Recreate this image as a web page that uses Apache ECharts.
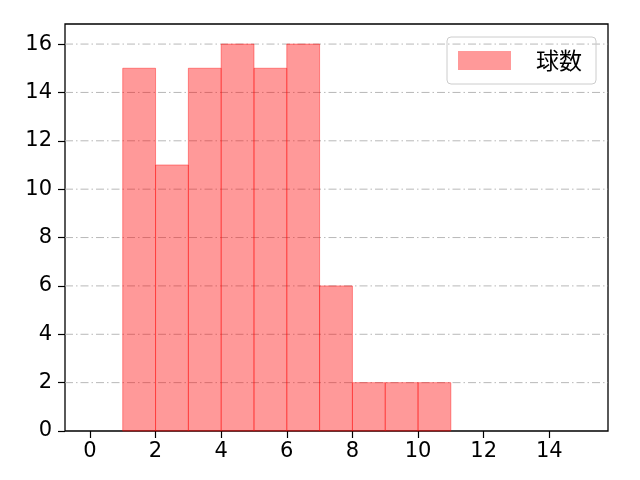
<!DOCTYPE html>
<html><head><meta charset="utf-8">
<script src="https://cdn.jsdelivr.net/npm/echarts@6/dist/echarts.min.js"></script>
<style>html,body{margin:0;padding:0;background:#fff}#c{width:640px;height:480px}</style>
</head><body><div id="c"></div>
<script>
const binStarts = [1,2,3,4,5,6,7,8,9,10];
const binEnds = [2,3,4,5,6,7,8,9,10,11];
const counts = [15,11,15,16,15,16,6,2,2,2];
const xTicks = [0,2,4,6,8,10,12,14];
const yTicks = [0,2,4,6,8,10,12,14,16];
const seriesName = '球数';

const data = binStarts.map((s,i)=>[s, binEnds[i], counts[i]]);
const chart = echarts.init(document.getElementById('c'));
const font = 'DejaVu Sans';
chart.setOption({
  animation:false,
  grid:{left:65,right:32,top:24,bottom:49,show:true,borderColor:'#000',borderWidth:1.3,backgroundColor:'transparent'},
  legend:{data:[{name:seriesName,icon:'rect'}],right:44,top:37,orient:'vertical',itemWidth:53,itemHeight:19,
    borderColor:'#cccccc',borderWidth:1,borderRadius:4,padding:[12,14,12,11],
    textStyle:{fontFamily:'Noto Sans CJK JP',fontSize:23,color:'#000',padding:[0,0,0,20]}},
  xAxis:{type:'value',min:-0.76,max:15.79,
    axisLine:{show:false,onZero:false},
    axisTick:{show:true,customValues:xTicks,length:7,lineStyle:{color:'#000',width:1.2}},
    axisLabel:{customValues:xTicks,fontFamily:font,fontSize:21,color:'#000',margin:10},
    splitLine:{show:false}},
  yAxis:{type:'value',min:0,max:16.83,
    axisLine:{show:false,onZero:false},
    axisTick:{show:true,customValues:yTicks,length:7,lineStyle:{color:'#000',width:1.2}},
    axisLabel:{customValues:yTicks,fontFamily:font,fontSize:21,color:'#000',margin:13},
    splitLine:{show:false}},
  series:[
  {type:'custom',name:'grid',silent:true,legendHoverLink:false,
    data:yTicks.filter(v=>v>0),
    renderItem:function(params,api){
      const y=api.value(0);
      const p0=api.coord([-0.76,y]);const p1=api.coord([15.79,y]);
      return {type:'line',shape:{x1:p0[0],y1:p0[1],x2:p1[0],y2:p1[1]},
        style:{stroke:'#b0b0b0',lineWidth:0.9,lineDash:[8,3,1.5,3]},z2:0};
    }, z:1},
  {type:'custom',name:seriesName,data:data,
    itemStyle:{color:'#ff9999'},
    renderItem:function(params,api){
      const a=api.coord([api.value(0),api.value(2)]);
      const b=api.coord([api.value(1),0]);
      return {type:'rect',shape:{x:a[0],y:a[1],width:b[0]-a[0],height:b[1]-a[1]},
        style:{fill:'rgba(255,0,0,0.4)',stroke:'rgba(255,0,0,0.4)',lineWidth:1}};
    }, z:2}
  ]
});
</script></body></html>
